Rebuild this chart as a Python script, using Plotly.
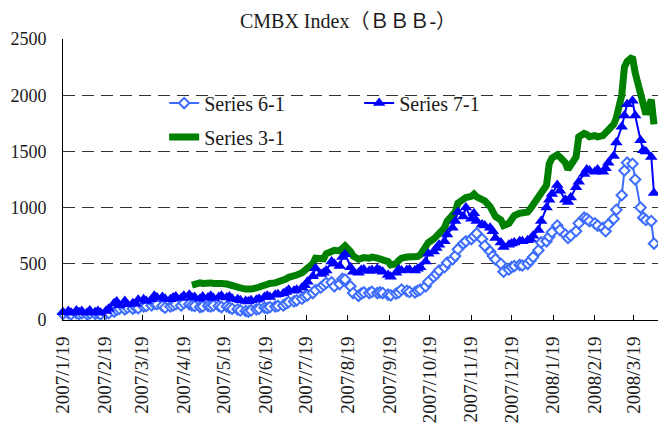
import pandas as pd
import plotly.graph_objects as go

# Dates: every second business day from 2007-01-19
dates = pd.bdate_range("2007-01-19", "2008-04-04", freq="2B")

series_61 = [55, 60, 50, 62, 52, 60, 50, 58, 55, 60, 50, 58,
             60, 75, 90, 100, 95, 110, 100, 115, 105, 120, 125, 130, 145, 140, 125, 110,
             120, 130, 140, 130, 150, 140, 130, 125, 115, 120, 125, 120, 130, 125, 115, 120,
             110, 100, 95, 85, 80, 75, 85, 95, 100, 110, 105, 115, 120, 125, 130, 145,
             160, 165, 175, 190, 210, 220, 240, 265, 290, 310, 330, 335, 300, 320, 365, 360,
             300, 240, 215, 235, 245, 240, 250, 240, 245, 240, 225, 220, 235, 245, 270, 260,
             250, 245, 260, 270, 300, 340, 385, 410, 440, 470, 510, 540, 570, 630, 680, 700,
             720, 745, 770, 720, 660, 610, 570, 540, 500, 430, 450, 470, 480, 490, 485, 500,
             530, 560, 620, 690, 700, 740, 780, 840, 800, 760, 730, 750, 790, 860, 910, 900,
             880, 860, 840, 820, 790, 850, 900, 980, 1110, 1330, 1400, 1390, 1250, 1000, 910, 890,
             880, 680]

series_71 = [70, 80, 65, 85, 70, 80, 65, 85, 70, 80, 65, 80,
             100, 150, 165, 130, 170, 140, 150, 145, 180, 185, 170, 185, 215, 200, 205, 190,
             185, 200, 210, 195, 215, 225, 200, 205, 190, 210, 200, 215, 195, 205, 215, 200,
             210, 190, 185, 175, 170, 165, 175, 180, 190, 205, 215, 205, 225, 230, 235, 250,
             270, 260, 270, 290, 310, 340, 390, 460, 410, 420, 440, 520, 500, 480, 560, 585,
             470, 430, 420, 445, 450, 435, 445, 455, 440, 430, 400, 385, 420, 450, 440, 445,
             450, 440, 455, 470, 520, 590, 610, 640, 670, 700, 760, 820, 880, 960, 920, 1000,
             900, 950, 880, 850, 840, 820, 790, 730, 690, 650, 670, 680, 690, 700, 700, 710,
             720, 750, 800, 880, 1000, 1070, 1120, 1200, 1150, 1070, 1050, 1090, 1180, 1230, 1300, 1340,
             1330, 1320, 1340, 1320, 1350, 1400, 1460, 1580, 1720, 1820, 1920, 1950, 1820, 1600, 1510, 1500,
             1450, 1130]

series_31_start = 34
series_31 = [310, 320, 330, 325, 335, 330, 325, 330, 325, 320,
             310, 300, 290, 285, 275, 270, 275, 285, 295, 300, 315, 325, 330, 335, 345, 365,
             380, 385, 400, 420, 440, 455, 500, 550, 540, 545, 590, 610, 620, 615, 650, 660,
             610, 570, 540, 550, 555, 550, 560, 550, 540, 545, 520, 490, 500, 530, 550, 560,
             560, 555, 565, 580, 640, 690, 720, 740, 780, 820, 880, 930, 960, 1040, 1070, 1090,
             1100, 1120, 1095, 1080, 1060, 1010, 960, 920, 890, 840, 860, 900, 930, 950, 955, 960,
             990, 1020, 1080, 1130, 1200, 1390, 1440, 1470, 1450, 1400, 1340, 1380, 1450, 1630, 1660, 1650,
             1630, 1640, 1630, 1640, 1660, 1690, 1740, 1800, 2000, 2250, 2300, 2340, 2200, 2020, 1870, 1830,
             1960, 1740]

tick_dates = ["2007-01-19", "2007-02-19", "2007-03-19", "2007-04-19", "2007-05-19",
              "2007-06-19", "2007-07-19", "2007-08-19", "2007-09-19", "2007-10-19",
              "2007-11-19", "2007-12-19", "2008-01-19", "2008-02-19", "2008-03-19"]
tick_labels = ["2007/1/19", "2007/2/19", "2007/3/19", "2007/4/19", "2007/5/19",
               "2007/6/19", "2007/7/19", "2007/8/19", "2007/9/19", "2007/10/19",
               "2007/11/19", "2007/12/19", "2008/1/19", "2008/2/19", "2008/3/19"]

FONT = "Liberation Serif, Noto Sans CJK SC, serif"
C61 = "#3D6DFF"
C71 = "#0000FF"
C31 = "#008000"
TXT = "#1a1a1a"

fig = go.Figure()
fig.add_trace(go.Scatter(
    x=dates[series_31_start:series_31_start + len(series_31)], y=series_31,
    name="Series 3-1", mode="lines", line=dict(color=C31, width=7),
    legend="legend2", cliponaxis=False))
fig.add_trace(go.Scatter(
    x=dates[:len(series_61)], y=series_61, name="Series 6-1", mode="lines+markers",
    line=dict(color=C61, width=2),
    marker=dict(symbol="diamond", size=8, color="white", line=dict(color=C61, width=2)),
    cliponaxis=False))
fig.add_trace(go.Scatter(
    x=dates[:len(series_71)], y=series_71, name="Series 7-1", mode="lines+markers",
    line=dict(color=C71, width=2),
    marker=dict(symbol="triangle-up", size=11, color=C71),
    cliponaxis=False))

# white area behind the legend hiding the grid lines
fig.add_shape(type="rect", xref="paper", yref="paper",
              x0=0.1176, x1=0.771, y0=0.569, y1=0.836,
              fillcolor="white", line=dict(width=0), layer="between")

fig.update_layout(
    width=658, height=427,
    margin=dict(l=63, r=0, t=39, b=107),
    paper_bgcolor="white", plot_bgcolor="white",
    font=dict(family=FONT, size=18, color=TXT),
    title=dict(text="CMBX Index（ＢＢＢ-）", x=348 / 658, xref="container", xanchor="center",
               y=1 - 21 / 427, yref="container", yanchor="middle",
               font=dict(family=FONT, size=20, color=TXT)),
    legend=dict(orientation="h", x=0.17, xanchor="left", y=0.772, yanchor="middle",
                bgcolor="rgba(0,0,0,0)", font=dict(family=FONT, size=20, color=TXT),
                entrywidth=150, entrywidthmode="pixels"),
    legend2=dict(orientation="h", x=0.17, xanchor="left", y=0.651, yanchor="middle",
                 bgcolor="rgba(0,0,0,0)", font=dict(family=FONT, size=20, color=TXT)),
    xaxis=dict(type="date", range=["2007-01-19", "2008-04-06"],
               tickmode="array", tickvals=tick_dates, ticktext=tick_labels,
               tickangle=-90, ticks="inside", ticklen=5, tickcolor="black",
               showline=True, linecolor="black", linewidth=1, showgrid=False,
               zeroline=False, ticklabelstandoff=8, automargin=False,
               tickfont=dict(family=FONT, size=19, color=TXT)),
    yaxis=dict(range=[0, 2500], dtick=500, showline=True, linecolor="black", linewidth=1,
               ticks="", showgrid=True, gridcolor="#333", gridwidth=1, griddash="12px,7px",
               zeroline=False, ticklabelstandoff=12, automargin=False,
               tickfont=dict(family=FONT, size=18, color=TXT)),
)

fig.write_html("out.html", config={"displayModeBar": False},
               post_script="document.body.style.margin='0';")
